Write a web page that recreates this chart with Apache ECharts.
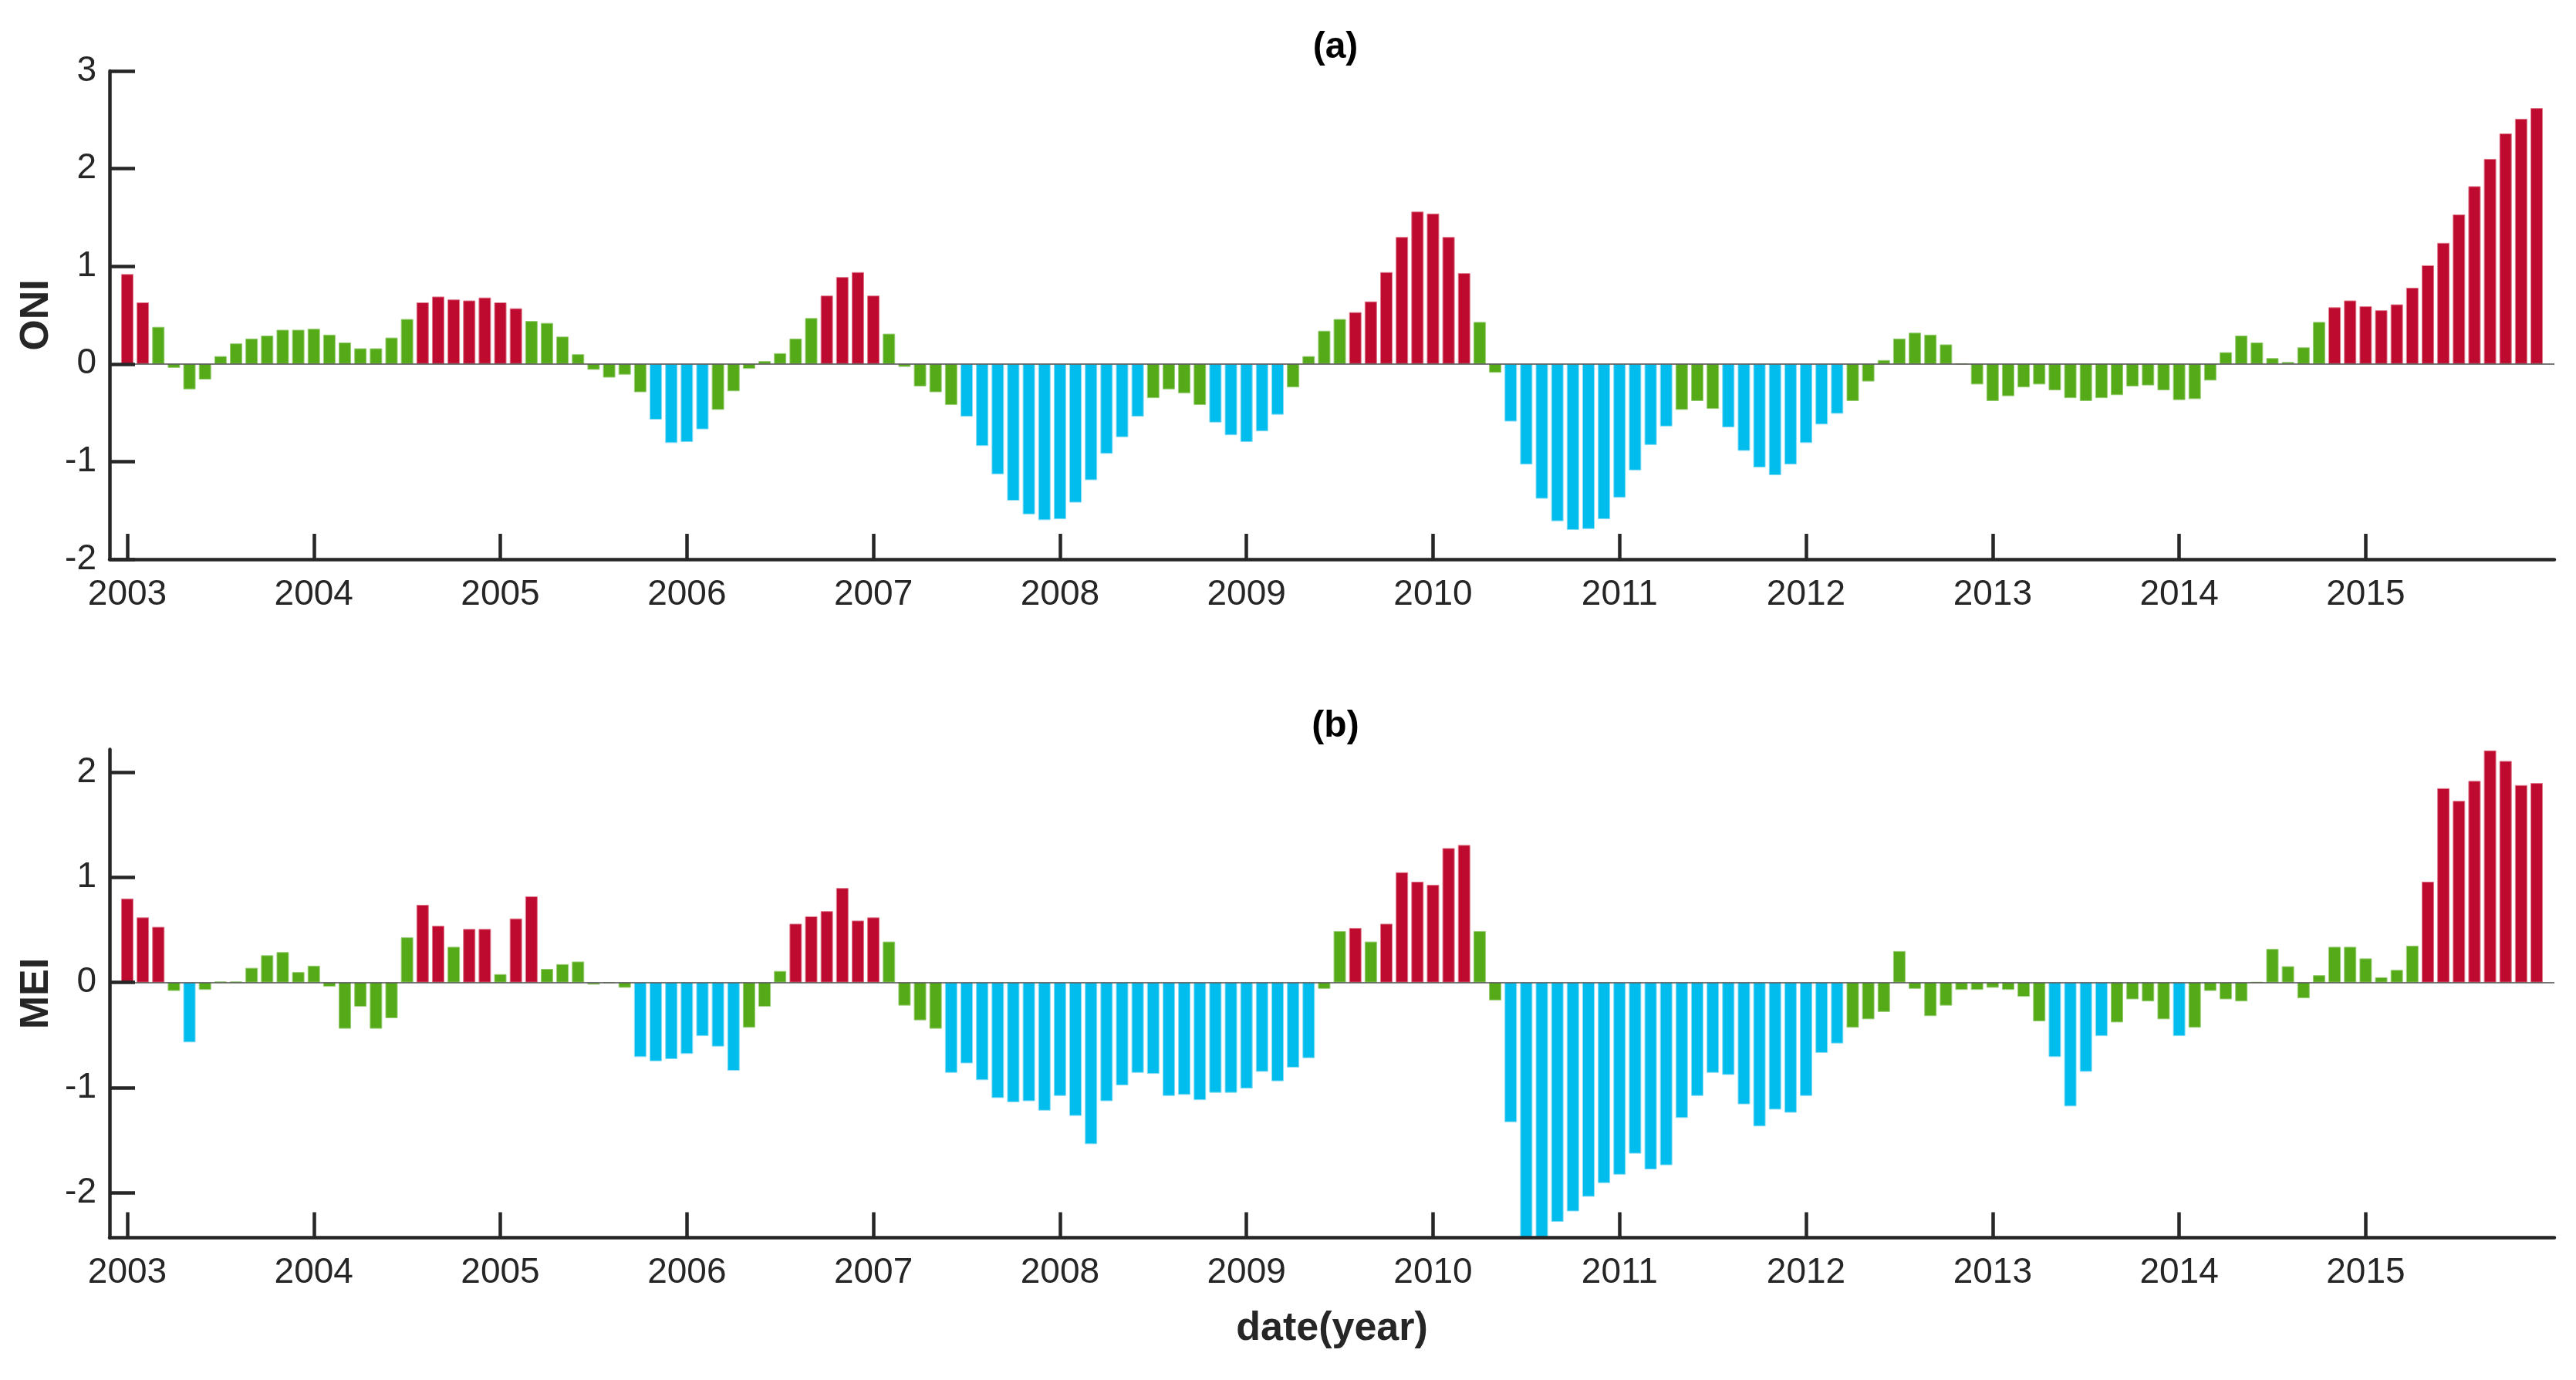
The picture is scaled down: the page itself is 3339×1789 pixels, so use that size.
<!DOCTYPE html>
<html>
<head>
<meta charset="utf-8">
<script src="https://cdn.jsdelivr.net/npm/echarts/dist/echarts.min.js"></script>
<style>
html,body{margin:0;padding:0;background:#fff;}
#chart{width:3339px;height:1789px;}
</style>
</head>
<body>
<div id="chart"></div>
<script>
// Year tick labels (one tick at each January)
var tickLabels = ['2003','2004','2005','2006','2007','2008','2009','2010','2011','2012','2013','2014','2015'];
var tickIndex = [0,12,24,36,48,60,72,84,96,108,120,132,144];

// ONI monthly values, Jan 2003 .. Dec 2015
var oni = [
 0.92, 0.63, 0.38,-0.04,-0.26,-0.16, 0.08, 0.21, 0.26, 0.29, 0.35, 0.35,
 0.36, 0.30, 0.22, 0.16, 0.16, 0.27, 0.46, 0.63, 0.69, 0.66, 0.65, 0.68,
 0.63, 0.57, 0.44, 0.42, 0.28, 0.10,-0.06,-0.14,-0.11,-0.29,-0.57,-0.81,
-0.80,-0.67,-0.47,-0.28,-0.05, 0.03, 0.11, 0.26, 0.47, 0.70, 0.89, 0.94,
 0.70, 0.31,-0.03,-0.23,-0.29,-0.42,-0.54,-0.84,-1.13,-1.40,-1.54,-1.60,
-1.59,-1.42,-1.19,-0.92,-0.75,-0.54,-0.35,-0.26,-0.30,-0.42,-0.60,-0.73,
-0.80,-0.69,-0.52,-0.24, 0.08, 0.34, 0.46, 0.53, 0.64, 0.94, 1.30, 1.56,
 1.54, 1.30, 0.93, 0.43,-0.09,-0.59,-1.03,-1.38,-1.61,-1.70,-1.69,-1.59,
-1.37,-1.09,-0.83,-0.64,-0.47,-0.38,-0.46,-0.65,-0.89,-1.06,-1.14,-1.03,
-0.81,-0.62,-0.51,-0.38,-0.18, 0.04, 0.26, 0.32, 0.30, 0.20, 0.00,-0.21,
-0.38,-0.33,-0.24,-0.21,-0.27,-0.35,-0.38,-0.35,-0.32,-0.23,-0.22,-0.27,
-0.37,-0.36,-0.17, 0.12, 0.29, 0.22, 0.06, 0.02, 0.17, 0.43, 0.58, 0.65,
 0.59, 0.55, 0.61, 0.78, 1.01, 1.24, 1.53, 1.82, 2.10, 2.36, 2.51, 2.62
];

// MEI monthly values, Jan 2003 .. Dec 2015
var mei = [
 0.80, 0.62, 0.53,-0.08,-0.57,-0.07, 0.01, 0.01, 0.14, 0.26, 0.29, 0.10,
 0.16,-0.04,-0.44,-0.23,-0.44,-0.34, 0.43, 0.74, 0.54, 0.34, 0.51, 0.51,
 0.08, 0.61, 0.82, 0.13, 0.175,0.20,-0.02,-0.005,-0.05,-0.71,-0.75,-0.73,
-0.68,-0.51,-0.61,-0.84,-0.43,-0.23, 0.11, 0.56, 0.63, 0.68, 0.90, 0.59,
 0.62, 0.39,-0.22,-0.36,-0.44,-0.86,-0.77,-0.93,-1.10,-1.14,-1.13,-1.22,
-1.08,-1.27,-1.54,-1.13,-0.98,-0.86,-0.87,-1.08,-1.07,-1.12,-1.05,-1.05,
-1.01,-0.85,-0.94,-0.81,-0.72,-0.06, 0.49, 0.52, 0.39, 0.56, 1.05, 0.96,
 0.93, 1.28, 1.31, 0.49,-0.17,-1.33,-2.43,-2.43,-2.28,-2.18,-2.04,-1.91,
-1.83,-1.63,-1.78,-1.74,-1.29,-1.08,-0.86,-0.88,-1.16,-1.37,-1.21,-1.24,
-1.08,-0.67,-0.58,-0.43,-0.35,-0.28, 0.30,-0.06,-0.32,-0.22,-0.07,-0.07,
-0.05,-0.07,-0.135,-0.37,-0.71,-1.18,-0.85,-0.51,-0.38,-0.16,-0.18,-0.35,
-0.51,-0.43,-0.08,-0.16,-0.18, 0.005,0.32, 0.155,-0.15,0.07, 0.34, 0.34,
 0.23, 0.05, 0.12, 0.35, 0.96, 1.85, 1.73, 1.92, 2.21, 2.11, 1.88, 1.90
];

var oniTicks = [-2,-1,0,1,2,3];
var meiTicks = [-2,-1,0,1,2];

var RED = '#BD0A2E', GREEN = '#55AA18', CYAN = '#00BDEE';
var EDGE = {};
EDGE[RED] = '#E07A8C'; EDGE[GREEN] = '#9ACD78'; EDGE[CYAN] = '#8ADCF4';
function pick(v){ return v >= 0.5 ? RED : (v <= -0.5 ? CYAN : GREEN); }
function build(arr){
  return arr.map(function(v,i){
    var c = pick(v);
    return {value:[i,v], itemStyle:{color:c, borderColor:EDGE[c], borderWidth:1}};
  });
}

var AX = '#262626';
var FONT = 'Liberation Sans, Arial, Helvetica, sans-serif';

function xAx(gi, withName){
  var o = {
    type:'value', gridIndex:gi, min:-1.14, max:156.14,
    axisLine:{show:true, onZero:false, lineStyle:{color:AX, width:4.5}},
    axisTick:{show:true, inside:true, length:33, lineStyle:{color:AX, width:4.5}, customValues:tickIndex},
    axisLabel:{show:true, customValues:tickIndex, margin:23, fontSize:46, color:AX, fontFamily:FONT,
      formatter:function(v){ return tickLabels[Math.round(v/12)]; }},
    splitLine:{show:false}, z:10
  };
  if(withName){
    o.name = 'date(year)'; o.nameLocation='middle'; o.nameGap=92;
    o.nameTextStyle = {fontSize:52, fontWeight:'bold', color:AX, fontFamily:FONT};
  }
  return o;
}
function yAx(gi, name, min, max, ticks){
  return {
    type:'value', gridIndex:gi, min:min, max:max,
    name:name, nameLocation:'middle', nameGap:66,
    nameTextStyle:{fontSize:52, fontWeight:'bold', color:AX, fontFamily:FONT},
    axisLine:{show:true, onZero:false, lineStyle:{color:AX, width:4.5}},
    axisTick:{show:true, inside:true, length:33, lineStyle:{color:AX, width:4.5}, customValues:ticks},
    axisLabel:{show:true, customValues:ticks, margin:17, fontSize:46, color:AX, fontFamily:FONT},
    splitLine:{show:false}, z:10
  };
}
function barSeries(idx, arr){
  return {
    type:'bar', xAxisIndex:idx, yAxisIndex:idx, data:build(arr), barWidth:16,
    clip:true, silent:true, animation:false,
    markLine:{silent:true, symbol:['none','none'], label:{show:false},
      lineStyle:{color:'#4a4a4a', width:1.5, type:'solid'}, data:[{yAxis:0}], animation:false}
  };
}

var chart = echarts.init(document.getElementById('chart'));
chart.setOption({
  backgroundColor:'#ffffff',
  animation:false,
  title:[
    {text:'(a)', left:1726, textAlign:'center', top:33, textStyle:{fontSize:48, fontWeight:'bold', color:'#000', fontFamily:FONT}},
    {text:'(b)', left:1726, textAlign:'center', top:913, textStyle:{fontSize:48, fontWeight:'bold', color:'#000', fontFamily:FONT}}
  ],
  grid:[
    {left:142, right:28, top:92, height:633},
    {left:142, right:28, top:971.5, height:633}
  ],
  xAxis:[xAx(0,false), xAx(1,true)],
  yAxis:[yAx(0,'ONI',-2,3,oniTicks), yAx(1,'MEI',-2.43,2.22,meiTicks)],
  series:[barSeries(0, oni), barSeries(1, mei)]
});
</script>
</body>
</html>
